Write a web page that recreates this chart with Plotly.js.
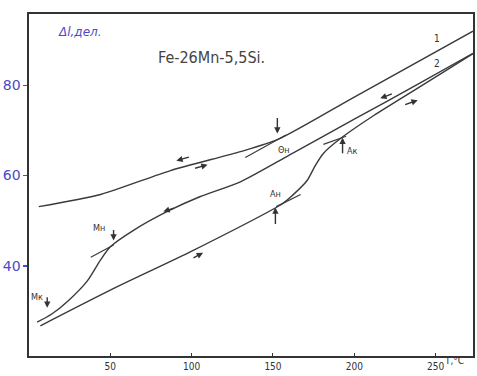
<!DOCTYPE html>
<html>
<head>
<meta charset="utf-8">
<script src="https://cdn.plot.ly/plotly-3.0.1.min.js"></script>
<style>html,body{margin:0;padding:0;background:#fff;}#chart{width:477px;height:376px;}</style>
</head>
<body>
<div id="chart"></div>
<script>
// Curve 1 (sample 1)
var curve1T = [6, 44, 87, 130, 153, 200, 273];
var curve1V = [53.1, 55.8, 61.1, 65.3, 68.0, 77.4, 92.0];
// Curve 2, cooling branch
var coolT = [5, 14, 24, 36, 44, 50, 64, 86, 105, 130, 160, 200, 240, 273];
var coolV = [27.5, 29.3, 32.2, 36.7, 41.3, 44.2, 47.8, 52.2, 55.3, 58.6, 64.5, 72.5, 80.4, 87.1];
// Curve 2, heating branch
var heatT = [7, 50, 101, 156, 162, 171, 176, 181, 191.5, 212, 240, 273];
var heatV = [26.7, 34.6, 43.4, 53.8, 55.6, 58.9, 62.2, 64.9, 68.2, 73.3, 79.6, 87.0];
// tangent segments at the transition points
var tanThetaT = [133, 158], tanThetaV = [64.0, 69.0];
var tanAkT = [181, 195], tanAkV = [66.9, 68.7];
var tanAnT = [152, 167], tanAnV = [53.1, 55.8];
var tanMnT = [38, 52], tanMnV = [41.9, 44.6];
// tick labels
var xTicks = [50, 100, 150, 200, 250];
var yTicks = [40, 60, 80];
var yTickText = ['40', '60', '80'];

var lineCol = '#3a3a3a';
function tr(x, y, w) {
  return {x: x, y: y, mode: 'lines', type: 'scatter', hoverinfo: 'skip',
    line: {color: lineCol, width: w || 1.4, shape: 'spline', smoothing: 0.7}};
}
var data = [
  tr(curve1T, curve1V), tr(coolT, coolV), tr(heatT, heatV),
  tr(tanThetaT, tanThetaV, 1.2), tr(tanAkT, tanAkV, 1.2), tr(tanAnT, tanAnV, 1.2), tr(tanMnT, tanMnV, 1.2)
];

function arrow(x, y, ax, ay) {
  return {x: x, y: y, ax: ax, ay: ay, text: '', showarrow: true, arrowhead: 2,
    arrowsize: 0.9, arrowwidth: 1.4, arrowcolor: '#333', xref: 'x', yref: 'y'};
}
function label(x, y, t, size) {
  return {x: x, y: y, text: t, showarrow: false, xref: 'x', yref: 'y',
    font: {family: 'DejaVu Sans Condensed', size: size || 9, color: '#333'}};
}
var ann = [
  // direction arrows
  arrow(90.6, 63.3, 14, -4),
  arrow(109.8, 62.4, -14, 4),
  arrow(82.6, 52.0, 12, -4),
  arrow(107, 42.9, -11, 6),
  arrow(216, 77.1, 13, -5),
  arrow(239, 76.7, -14, 5),
  // point markers
  arrow(152.7, 69.3, 0, -17),
  arrow(192.8, 68.4, 0, 17),
  arrow(151.5, 52.9, 0, 18),
  arrow(52, 45.6, 0, -12),
  arrow(11.2, 30.7, 0, -12),
  label(157, 65.6, 'Θн'),
  label(199, 65.4, 'Ак'),
  label(151.5, 55.8, 'Ан'),
  label(43, 48.4, 'Мн'),
  label(5, 33.1, 'Мк'),
  label(251, 90.4, '1', 10),
  label(251, 84.9, '2', 10),
  {x: 0.41, y: 0.905, xref: 'paper', yref: 'paper', text: 'Fe-26Mn-5,5Si.', showarrow: false,
    font: {family: 'DejaVu Sans Condensed', size: 16, color: '#444'}},
  {x: 0.06, y: 0.975, xref: 'paper', yref: 'paper', text: '<i>Δl,дел.</i>', showarrow: false,
    font: {family: 'DejaVu Sans', size: 12, color: '#4a4ac8'}},
  {x: 0.985, y: -0.035, xref: 'paper', yref: 'paper', text: 'T,°C', showarrow: false,
    font: {family: 'DejaVu Sans Condensed', size: 10, color: '#333'}}
];

var layout = {
  width: 477, height: 376,
  margin: {l: 29, r: 4, t: 14, b: 20},
  paper_bgcolor: '#fff', plot_bgcolor: '#fff',
  showlegend: false,
  xaxis: {range: [0, 273], tickvals: xTicks, ticktext: xTicks.map(String),
    showgrid: false, zeroline: false, showline: true, mirror: true, linecolor: '#333', linewidth: 1.6,
    ticks: 'inside', ticklen: 3, tickcolor: '#333',
    tickfont: {family: 'DejaVu Sans Condensed', size: 10, color: '#333'}},
  yaxis: {range: [20, 95.8], tickvals: yTicks, ticktext: yTickText,
    showgrid: false, zeroline: false, showline: true, mirror: true, linecolor: '#333', linewidth: 1.6,
    ticks: 'outside', ticklen: 4, tickcolor: '#4a4ac8', tickwidth: 1.5,
    tickfont: {family: 'DejaVu Sans', size: 14, color: '#4a4ac8'}},
  annotations: ann
};
Plotly.newPlot('chart', data, layout, {staticPlot: true, displayModeBar: false});
</script>
</body>
</html>
